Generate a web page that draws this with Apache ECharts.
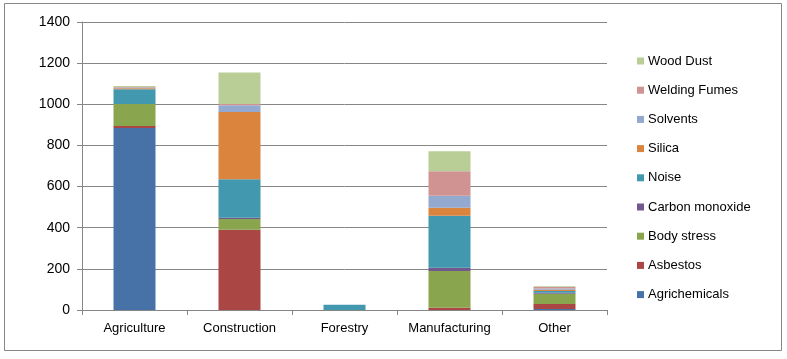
<!DOCTYPE html>
<html>
<head>
<meta charset="utf-8">
<script src="https://cdn.jsdelivr.net/npm/echarts@6/dist/echarts.min.js"></script>
<style>html,body{margin:0;padding:0;background:#fff}#c{width:787px;height:359px}</style>
</head>
<body>
<div id="c"></div>
<script>
const categories = ['Agriculture', 'Construction', 'Forestry', 'Manufacturing', 'Other'];
const seriesNames = ['Agrichemicals', 'Asbestos', 'Body stress', 'Carbon monoxide', 'Noise', 'Silica', 'Solvents', 'Welding Fumes', 'Wood Dust'];
const agrichemicals = [885, 0, 0, 0, 5];
const asbestos = [10, 390, 0, 11, 24];
const bodyStress = [106, 52, 0, 178, 50];
const carbonMonoxide = [0, 6, 0, 16, 5];
const noise = [72, 188, 25, 253, 8];
const silica = [5, 327, 0, 39, 7];
const solvents = [4, 32, 0, 58, 6];
const weldingFumes = [2, 6, 0, 120, 7];
const woodDust = [5, 154, 0, 97, 4];
const yTicks = [0, 200, 400, 600, 800, 1000, 1200, 1400];

const values = [agrichemicals, asbestos, bodyStress, carbonMonoxide, noise, silica, solvents, weldingFumes, woodDust];
const colors = ['#4672A8', '#AA4643', '#89A54E', '#71588F', '#4198AF', '#DB843D', '#93A9CF', '#D19392', '#B9CD96'];
const font = 'Liberation Sans';

const chart = echarts.init(document.getElementById('c'), null, {renderer: 'canvas'});
chart.setOption({
  animation: false,
  graphic: [{type: 'rect', shape: {x: 4.5, y: 3.5, width: 777, height: 347}, style: {fill: 'none', stroke: '#868686', lineWidth: 1}, silent: true}],
  grid: {left: 82, right: 180, top: 22, bottom: 49},
  legend: {
    orient: 'vertical', left: 632, top: 49,
    data: seriesNames.slice().reverse(),
    icon: 'rect', itemWidth: 7, itemHeight: 7, itemGap: 15.2,
    textStyle: {fontFamily: font, fontSize: 13, color: '#000', lineHeight: 14, padding: [0, 0, 0, -1]}
  },
  xAxis: {
    type: 'category', data: categories,
    axisLine: {lineStyle: {color: '#868686'}},
    axisTick: {show: true, interval: 0, length: 5, lineStyle: {color: '#868686'}},
    axisLabel: {interval: 0, fontFamily: font, fontSize: 13, color: '#000', margin: 12}
  },
  yAxis: {
    type: 'value', min: yTicks[0], max: yTicks[yTicks.length - 1], interval: 200,
    axisLine: {show: true, lineStyle: {color: '#868686'}},
    axisTick: {show: true, length: 5, lineStyle: {color: '#868686'}},
    axisLabel: {fontFamily: font, fontSize: 14, color: '#000', margin: 12, formatter: v => String(v)},
    splitLine: {lineStyle: {color: '#868686'}}
  },
  series: seriesNames.map((n, i) => ({
    name: n, type: 'bar', stack: 'total', data: values[i],
    barWidth: 42, itemStyle: {color: colors[i]}
  }))
});
</script>
</body>
</html>
